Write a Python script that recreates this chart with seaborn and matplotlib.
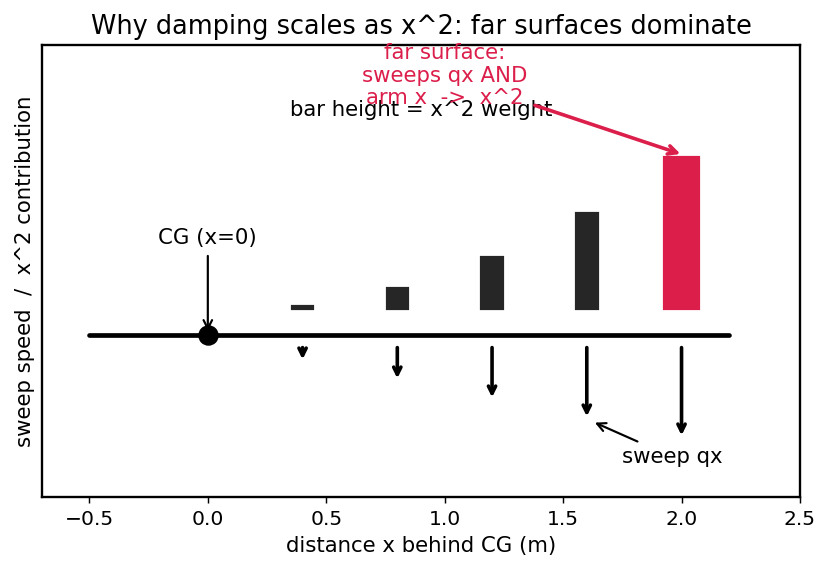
import matplotlib
matplotlib.use("Agg")
import matplotlib.pyplot as plt
import seaborn as sns
import numpy as np
import pandas as pd

# data
positions = [0.4, 0.8, 1.2, 1.6, 2.0]          # distance x behind CG (m)
x2_weight = [0.16, 0.64, 1.44, 2.56, 4.0]      # x^2 contribution
sweep_speed = [0.4, 0.8, 1.2, 1.6, 2.0]        # sweep speed ~ q*x
beam_x = [-0.5, 2.2]
cg_x = [0.0]
xticks = [-0.5, 0.0, 0.5, 1.0, 1.5, 2.0, 2.5]

RED = "#dc1e4b"
DARK = "#262626"
BAR_SCALE = 0.293
BAR_BASE = 0.18
ARROW_TOP = -0.07
ARROW_SCALE = 0.357

sns.set_style("ticks")
plt.rcParams["font.family"] = ["DejaVu Sans"]
for k in ["text.color", "axes.labelcolor", "xtick.color", "ytick.color", "axes.edgecolor"]:
    plt.rcParams[k] = "black"

fig = plt.figure(figsize=(6.4, 4.41), dpi=130)
ax = fig.add_axes([0.0505, 0.1326, 0.911, 0.789])

df = pd.DataFrame({"x": positions, "h": [w * BAR_SCALE for w in x2_weight]})
near = df.iloc[:-1]
far = df.iloc[-1:]
sns.barplot(data=near, x="x", y="h", native_scale=True, width=0.27,
            color=DARK, saturation=1, bottom=BAR_BASE, ax=ax, zorder=2)
sns.barplot(data=far, x="x", y="h", native_scale=True, width=0.165,
            color=RED, saturation=1, bottom=BAR_BASE, ax=ax, zorder=2)

sns.lineplot(x=beam_x, y=[0, 0], color="black", lw=2.6, ax=ax, zorder=3)
sns.scatterplot(x=cg_x, y=[0], color="black", s=110, ax=ax, zorder=4, edgecolor="black")

for px, v in zip(positions, sweep_speed):
    ax.annotate("", xy=(px, ARROW_TOP - ARROW_SCALE * v), xytext=(px, ARROW_TOP),
                arrowprops=dict(arrowstyle="->", color="black", lw=2))

FS = 11.8
ax.annotate("CG (x=0)", xy=(0, 0), xytext=(0, 0.65), ha="center", va="bottom",
            fontsize=FS, arrowprops=dict(arrowstyle="->", color="black", lw=1.2))
ax.annotate("sweep qx", xy=(1.62, -0.65), xytext=(1.75, -0.92), ha="left", va="center",
            fontsize=FS, arrowprops=dict(arrowstyle="->", color="black", lw=1.2))
ax.text(0.9, 1.69, "bar height = x^2 weight", ha="center", va="center", fontsize=FS)
ax.annotate("far surface:\nsweeps qx AND\narm x  ->  x^2", xy=(2.01, 1.35), xytext=(1.0, 1.95),
            ha="center", va="center", color=RED, fontsize=FS, linespacing=1.15,
            arrowprops=dict(arrowstyle="->", color=RED, lw=2))

ax.set_xlim(-0.7, 2.5)
ax.set_ylim(-1.22, 2.18)
ax.set_xticks(xticks)
ax.set_xticklabels([f"{t:.1f}".replace("-", "\u2212") for t in xticks])
ax.set_yticks([])
ax.tick_params(axis="x", labelsize=11.2)
ax.set_xlabel("distance x behind CG (m)", fontsize=FS)
ax.set_ylabel("sweep speed  /  x^2 contribution", fontsize=FS)
ax.set_title("Why damping scales as x^2: far surfaces dominate", fontsize=14.2)
for s in ax.spines.values():
    s.set_linewidth(1.3)

fig.savefig("out.png", dpi=130)
